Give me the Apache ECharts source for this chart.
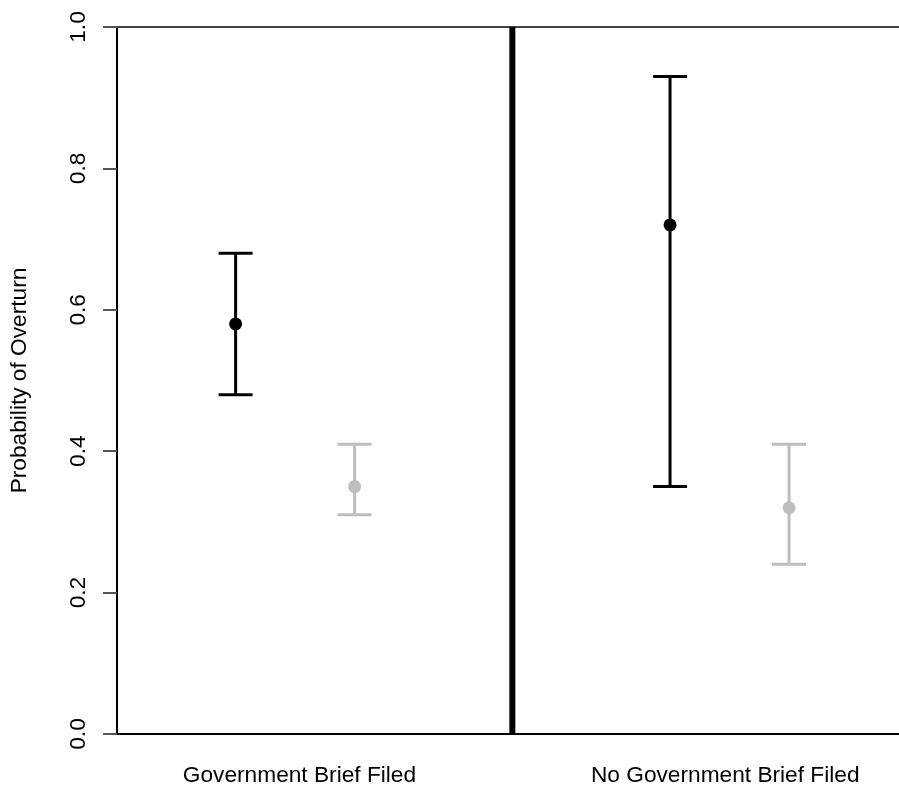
<!DOCTYPE html>
<html>
<head>
<meta charset="utf-8">
<script src="https://cdn.jsdelivr.net/npm/echarts@6/dist/echarts.min.js"></script>
<style>
html,body{margin:0;padding:0;background:#fff;}
#chart{width:899px;height:793px;}
</style>
</head>
<body>
<div id="chart"></div>
<script>
// ---- data ----
var groupLabels = ['Government Brief Filed', 'No Government Brief Filed'];
var labelPositions = [1.01, 1.99];
var dividerX = 1.5;
// black series (x position, estimate, lower, upper)
var blackX = [0.863, 1.863];
var blackEst = [0.58, 0.72];
var blackLow = [0.48, 0.35];
var blackHigh = [0.68, 0.93];
// gray series
var grayX = [1.137, 2.137];
var grayEst = [0.35, 0.32];
var grayLow = [0.31, 0.24];
var grayHigh = [0.41, 0.41];
var yTicks = [0, 0.2, 0.4, 0.6, 0.8, 1.0];

var FONT = 'Liberation Sans, Arial, sans-serif';
var FS = 22.7;
var CAP = 17;

function errData(xs, lo, hi) {
  return xs.map(function (x, i) { return [x, lo[i], hi[i]]; });
}
function ptData(xs, est) {
  return xs.map(function (x, i) { return [x, est[i]]; });
}
function errRender(color) {
  return function (params, api) {
    var x = api.value(0);
    var lo = api.coord([x, api.value(1)]);
    var hi = api.coord([x, api.value(2)]);
    var st = { stroke: color, lineWidth: 3 };
    return {
      type: 'group',
      children: [
        { type: 'line', shape: { x1: lo[0], y1: lo[1], x2: hi[0], y2: hi[1] }, style: st },
        { type: 'line', shape: { x1: lo[0] - CAP, y1: lo[1], x2: lo[0] + CAP, y2: lo[1] }, style: st },
        { type: 'line', shape: { x1: hi[0] - CAP, y1: hi[1], x2: hi[0] + CAP, y2: hi[1] }, style: st }
      ]
    };
  };
}

var chart = echarts.init(document.getElementById('chart'));
chart.setOption({
  animation: false,
  backgroundColor: '#ffffff',
  grid: { left: 117, right: 0, top: 27, bottom: 59 },
  xAxis: [{
    type: 'value',
    min: 0.59,
    max: 2.39,
    position: 'bottom',
    splitLine: { show: false },
    axisLine: { show: true, onZero: false, lineStyle: { color: '#000', width: 2 } },
    axisTick: { show: false },
    axisLabel: {
      show: true,
      customValues: labelPositions,
      formatter: function (v) {
        var idx = labelPositions.indexOf(v);
        return idx >= 0 ? groupLabels[idx] : '';
      },
      fontFamily: FONT,
      fontSize: FS,
      color: '#000',
      margin: 30
    }
  }, {
    type: 'value',
    min: 0.59,
    max: 2.39,
    position: 'top',
    splitLine: { show: false },
    axisLine: { show: true, onZero: false, lineStyle: { color: '#444', width: 2 } },
    axisTick: { show: false },
    axisLabel: { show: false }
  }],
  yAxis: {
    type: 'value',
    min: 0,
    max: 1,
    interval: 0.2,
    splitLine: { show: false },
    axisLine: { show: true, lineStyle: { color: '#000', width: 2 } },
    axisTick: { show: true, length: 14, lineStyle: { color: '#555', width: 2 } },
    axisLabel: {
      rotate: 90,
      margin: 27,
      fontFamily: FONT,
      fontSize: FS,
      color: '#000',
      formatter: function (v) { return v.toFixed(1); }
    },
    name: 'Probability of Overturn',
    nameLocation: 'middle',
    nameRotate: 90,
    nameGap: 86,
    nameTextStyle: { fontFamily: FONT, fontSize: FS, color: '#000' }
  },
  series: [
    {
      type: 'custom',
      renderItem: function (params, api) {
        var x = api.value(0);
        var b = api.coord([x, 0]);
        var t = api.coord([x, 1]);
        return { type: 'line', shape: { x1: b[0], y1: b[1], x2: t[0], y2: t[1] }, style: { stroke: '#000', lineWidth: 6 } };
      },
      data: [[dividerX]],
      encode: { x: 0 },
      silent: true,
      z: 1
    },
    {
      type: 'custom',
      renderItem: errRender('#000000'),
      data: errData(blackX, blackLow, blackHigh),
      encode: { x: 0, y: [1, 2] },
      z: 2
    },
    {
      type: 'custom',
      renderItem: errRender('#bebebe'),
      data: errData(grayX, grayLow, grayHigh),
      encode: { x: 0, y: [1, 2] },
      z: 2
    },
    {
      type: 'scatter',
      data: ptData(blackX, blackEst),
      symbol: 'circle',
      symbolSize: 13,
      itemStyle: { color: '#000000', opacity: 1 },
      z: 3
    },
    {
      type: 'scatter',
      data: ptData(grayX, grayEst),
      symbol: 'circle',
      symbolSize: 13,
      itemStyle: { color: '#bebebe', opacity: 1 },
      z: 3
    }
  ]
});
</script>
</body>
</html>
